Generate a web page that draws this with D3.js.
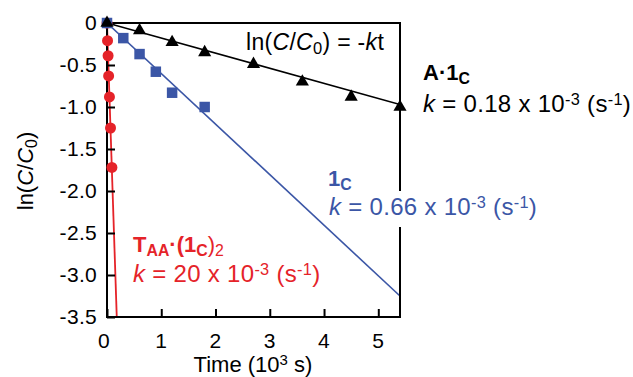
<!DOCTYPE html>
<html>
<head>
<meta charset="utf-8">
<script src="https://cdn.jsdelivr.net/npm/d3@7"></script>
<style>
  body { margin: 0; background: #fff; }
  svg { font-family: 'Liberation Sans', Arial, Helvetica, sans-serif; }
</style>
</head>
<body>
<script>
// A·1C (black triangles)
const timeA = [0, 0.6, 1.2, 1.8, 2.7, 3.6, 4.5, 5.4];
const lnA = [0, -0.09, -0.23, -0.35, -0.49, -0.70, -0.88, -1.0];
// 1C (blue squares)
const timeB = [0, 0.3, 0.6, 0.9, 1.2, 1.8];
const lnB = [0, -0.18, -0.37, -0.58, -0.83, -1.0];
// TAA·(1C)2 (red circles)
const timeR = [0, 0.01, 0.02, 0.03, 0.045, 0.065, 0.09];
const lnR = [0, -0.21, -0.39, -0.63, -0.88, -1.25, -1.72];
// fitted lines, ln(C/C0) = -kt
const fitA = [[0, 0], [5.4, -0.97]];
const fitB = [[0, 0], [5.4, -3.25]];
const fitR = [[0, 0], [0.18, -3.5]];

const xTicks = [0, 1, 2, 3, 4, 5];
const yTicks = [0, -0.5, -1.0, -1.5, -2.0, -2.5, -3.0, -3.5];

const black = '#000', blue = '#3b56a6', red = '#e52329';

const margin = { top: 23, right: 233, bottom: 60, left: 107 };
const W = 633, H = 377;
const width = W - margin.left - margin.right;
const height = H - margin.top - margin.bottom;

const x = d3.scaleLinear().domain([0, 5.4]).range([0, width]);
const y = d3.scaleLinear().domain([-3.5, 0]).range([height, 0]);

const svg = d3.select('body').append('svg')
  .attr('width', W)
  .attr('height', H);

const g = svg.append('g')
  .attr('transform', 'translate(' + margin.left + ',' + margin.top + ')');

g.append('defs').append('clipPath').attr('id', 'clip')
  .append('rect').attr('width', width).attr('height', height);

const line = d3.line().x(d => x(d[0])).y(d => y(d[1]));

// fit lines
const plot = g.append('g').attr('clip-path', 'url(#clip)');
plot.append('path').datum(fitR).attr('d', line)
  .attr('fill', 'none').attr('stroke', red).attr('stroke-width', 1.8);
plot.append('path').datum(fitB).attr('d', line)
  .attr('fill', 'none').attr('stroke', blue).attr('stroke-width', 1.6);
plot.append('path').datum(fitA).attr('d', line)
  .attr('fill', 'none').attr('stroke', black).attr('stroke-width', 1.6);

// axes (ticks pointing inward)
const xAxis = g.append('g')
  .attr('transform', 'translate(0,' + height + ')')
  .call(d3.axisTop(x).tickValues(xTicks).tickSize(8).tickFormat(''));
const yAxis = g.append('g')
  .call(d3.axisRight(y).tickValues(yTicks).tickSize(8).tickFormat(''));
[xAxis, yAxis].forEach(a => {
  a.select('.domain').remove();
  a.selectAll('line').attr('stroke', '#000').attr('stroke-width', 2);
});

// frame
g.append('rect').attr('width', width).attr('height', height)
  .attr('fill', 'none').attr('stroke', '#000').attr('stroke-width', 2);

// tick labels
g.selectAll('.xl').data(xTicks).enter().append('text')
  .attr('x', d => x(d) + (d === 0 ? -3 : 0)).attr('y', height + 31)
  .attr('text-anchor', 'middle').attr('font-size', 21).attr('letter-spacing', 0.5)
  .text(d => d);
g.selectAll('.yl').data(yTicks).enter().append('text')
  .attr('x', -10).attr('y', d => y(d) + 7)
  .attr('text-anchor', 'end').attr('font-size', 21).attr('letter-spacing', 0.3)
  .text(d => d === 0 ? '0' : d.toFixed(1));

// markers
const pts = (ts, vs) => ts.map((t, i) => [t, vs[i]]);
g.selectAll('.r').data(pts(timeR, lnR)).enter().append('circle')
  .attr('cx', d => x(d[0])).attr('cy', d => y(d[1])).attr('r', 5.5)
  .attr('fill', red);
g.selectAll('.b').data(pts(timeB, lnB)).enter().append('path')
  .attr('transform', d => 'translate(' + x(d[0]) + ',' + y(d[1]) + ')')
  .attr('d', d3.symbol(d3.symbolSquare, 110)).attr('fill', blue);
g.selectAll('.a').data(pts(timeA, lnA)).enter().append('path')
  .attr('transform', d => 'translate(' + x(d[0]) + ',' + y(d[1]) + ')')
  .attr('d', d3.symbol(d3.symbolTriangle, 75)).attr('fill', black);

// annotations
function rich(sel, parts) {
  parts.forEach(p => {
    const t = sel.append('tspan').text(p.t);
    if (p.i) t.attr('font-style', 'italic');
    if (p.b) t.attr('font-weight', 'bold');
    if (p.sub) t.attr('font-size', '72%').attr('baseline-shift', '-25%');
    if (p.sup) t.attr('font-size', '68%').attr('baseline-shift', '45%');
  });
  return sel;
}

const kText = v => [{ t: 'k', i: 1 }, { t: ' = ' + v + ' x 10' }, { t: '-3', sup: 1 },
  { t: ' (s' }, { t: '-1', sup: 1 }, { t: ')' }];

rich(svg.append('text').attr('x', 246).attr('y', 50).attr('font-size', 23).attr('letter-spacing', 0.3),
  [{ t: 'ln(' }, { t: 'C', i: 1 }, { t: '/' }, { t: 'C', i: 1 }, { t: '0', sub: 1 },
   { t: ') = -' }, { t: 'k', i: 1 }, { t: 't' }]);

rich(svg.append('text').attr('x', 423).attr('y', 80).attr('font-size', 22).attr('font-weight', 'bold'),
  [{ t: 'A·1' }, { t: 'C', sub: 1 }]);
rich(svg.append('text').attr('x', 423).attr('y', 112).attr('font-size', 24).attr('letter-spacing', 0.3),
  kText('0.18'));

svg.append('rect').attr('x', 395).attr('y', 191).attr('width', 10).attr('height', 36).attr('fill', '#fff');
rich(svg.append('text').attr('x', 328).attr('y', 186).attr('font-size', 22).attr('font-weight', 'bold').attr('fill', blue),
  [{ t: '1' }, { t: 'C', sub: 1 }]);
rich(svg.append('text').attr('x', 329).attr('y', 215).attr('font-size', 24).attr('letter-spacing', 0.3).attr('fill', blue),
  kText('0.66'));

rich(svg.append('text').attr('x', 133).attr('y', 252).attr('font-size', 22).attr('fill', red),
  [{ t: 'T', b: 1 }, { t: 'AA', b: 1, sub: 1 }, { t: '·(1', b: 1 }, { t: 'C', b: 1, sub: 1 }, { t: ')' }, { t: '2', sub: 1 }]);
rich(svg.append('text').attr('x', 133).attr('y', 282).attr('font-size', 24).attr('letter-spacing', 0.3).attr('fill', red),
  kText('20'));

// axis titles
rich(svg.append('text').attr('x', 253).attr('y', 372).attr('text-anchor', 'middle').attr('font-size', 22),
  [{ t: 'Time (10' }, { t: '3', sup: 1 }, { t: ' s)' }]);
rich(svg.append('text').attr('transform', 'translate(33,171) rotate(-90)')
  .attr('text-anchor', 'middle').attr('font-size', 22),
  [{ t: 'ln(' }, { t: 'C', i: 1 }, { t: '/' }, { t: 'C', i: 1 }, { t: '0', sub: 1 }, { t: ')' }]);
</script>
</body>
</html>
